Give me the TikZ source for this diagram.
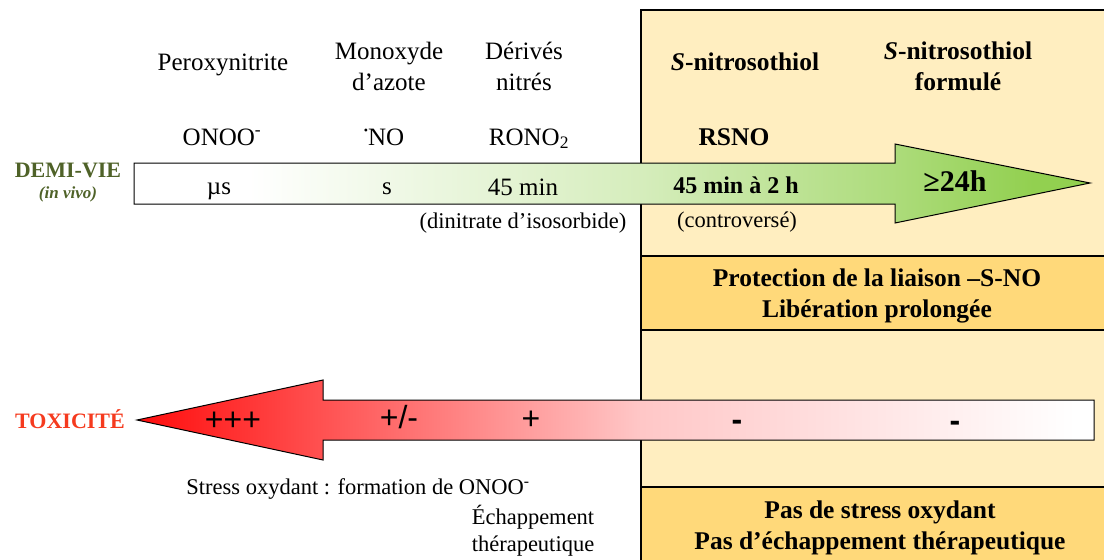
\documentclass[tikz,border=0pt]{standalone}
\usepackage{fontspec}
\setmainfont{Liberation Serif}
\newfontfamily\signfont{Liberation Sans}

\definecolor{panel}{HTML}{FFEEC0}
\definecolor{band}{HTML}{FFD97A}
\definecolor{vert}{HTML}{92D050}
\definecolor{olive}{HTML}{4F6228}
\definecolor{tox}{HTML}{F53A1E}

\pgfdeclarehorizontalshading{vieshade}{100bp}{color(0bp)=(white); color(31bp)=(white); color(51.4bp)=(vert!38); color(64.6bp)=(vert!75); color(72bp)=(vert); color(100bp)=(vert)}
\pgfdeclarehorizontalshading{toxshade}{100bp}{color(0bp)=(red!95); color(25bp)=(red!95); color(51.3bp)=(red!22); color(74bp)=(white); color(100bp)=(white)}

\tikzset{
	lbl/.style={font=\fontsize{25}{31}\selectfont, align=center, inner sep=0pt},
	lblb/.style={lbl, font=\fontsize{25.5}{31}\selectfont\bfseries},
	small/.style={font=\fontsize{22.5}{27}\selectfont, align=center, inner sep=0pt},
	sign/.style={font=\fontsize{32}{32}\signfont, inner sep=0pt, anchor=base},
	side/.style={font=\fontsize{22}{26}\selectfont\bfseries, inner sep=0pt, anchor=base},
}

\begin{document}
\begin{tikzpicture}[x=1pt,y=-1pt]
	\useasboundingbox (0,0) rectangle (1104,560);

	\fill[panel] (641,10) rectangle (1104,560);
	\fill[band] (641,256) rectangle (1104,330);
	\fill[band] (641,487) rectangle (1104,560);
	\draw[line width=1.5pt] (641,560) -- (641,10) -- (1104,10);
	\draw[line width=1.5pt] (641,256) -- (1104,256) (641,330) -- (1104,330) (641,487) -- (1104,487);

	\draw[line width=1pt, shading=vieshade] (134,163) -- (895,163) -- (895,144) -- (1090,183) -- (895,223) -- (895,204) -- (134,204) -- cycle;
	\draw[line width=1pt, shading=toxshade] (137,420) -- (323,380) -- (323,400) -- (1094,400) -- (1094,440) -- (323,440) -- (323,460) -- cycle;

	\node[lbl, anchor=base] (peroxy) at (223,70) {Peroxynitrite};
	\node[lbl] (monox) at (389,66) {Monoxyde\\d’azote};
	\node[lbl] (deriv) at (524,66) {Dérivés\\nitrés};
	\node[lblb, anchor=base] (nitroso) at (745,70) {\textit{S}-nitrosothiol};
	\node[lblb] (formule) at (958,66) {\textit{S}-nitrosothiol\\formulé};

	\node[lbl, anchor=base] (onoo) at (222,145) {ONOO\textsuperscript{-}};
	\node[lbl, anchor=base] (no) at (384,145) {\raisebox{0.42em}{\fontsize{12}{12}\selectfont•}NO};
	\node[lbl, anchor=base] (rono) at (529,145) {RONO\textsubscript{2}};
	\node[lblb, anchor=base] (rsno) at (734,145) {RSNO};

	\node[side, text=olive] (demivie) at (68,177) {DEMI-VIE};
	\node[font=\fontsize{17}{20}\selectfont\bfseries\itshape, text=olive, inner sep=0pt, anchor=base] (invivo) at (68,198) {(in vivo)};

	\node[lbl, anchor=base] (mus) at (219,194) {µs};
	\node[lbl, anchor=base] (sec) at (387,194) {s};
	\node[lbl, anchor=base] (isdn) at (523,195) {45 min};
	\node[lblb, anchor=base, font=\fontsize{24}{31}\selectfont\bfseries] (rsnot) at (736,193) {45 min à 2 h};
	\node[font=\fontsize{30}{30}\selectfont\bfseries, inner sep=0pt, anchor=base] (longt) at (955,191) {≥24h};
	\node[small, anchor=base] (dinit) at (523,228) {(dinitrate d’isosorbide)};
	\node[small, anchor=base] (contro) at (737,227) {(controversé)};

	\node[lblb] (protect) at (877,296) {Protection de la liaison –S-NO\\Libération prolongée};

	\node[side, text=tox] (toxic) at (70,428) {TOXICITÉ};
	\node[sign] (tox3) at (233,430) {+++};
	\node[sign] (tox2) at (399,428) {+/-};
	\node[sign] (tox1) at (531,429) {+};
	\node[sign, font=\fontsize{32}{32}\signfont\bfseries] (tox0a) at (737,430) {-};
	\node[sign, font=\fontsize{32}{32}\signfont\bfseries] (tox0b) at (955,431) {-};

	\node[small, anchor=base] (stress) at (358,494) {Stress oxydant : formation de ONOO\textsuperscript{-}};
	\node[small] (echap) at (533,531) {Échappement\\thérapeutique};
	\node[lblb] (passtress) at (880,528) {Pas de stress oxydant\\Pas d’échappement thérapeutique};
\end{tikzpicture}
\end{document}
